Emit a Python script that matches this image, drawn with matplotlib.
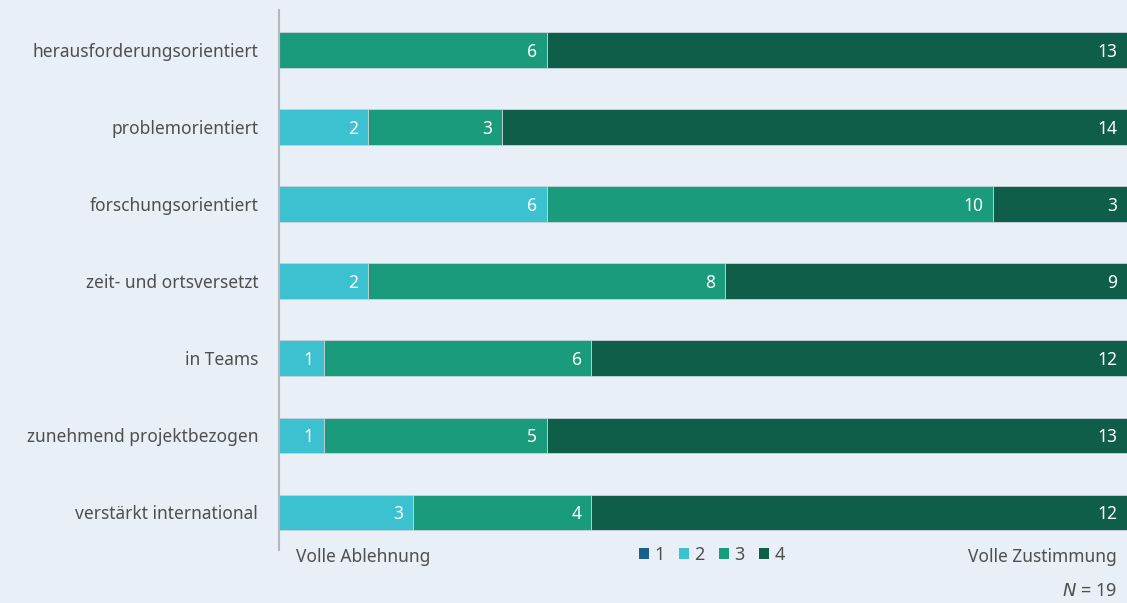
import matplotlib
matplotlib.use('Agg')
import matplotlib.pyplot as plt
import numpy as np

categories = ['herausforderungsorientiert', 'problemorientiert', 'forschungsorientiert',
              'zeit- und ortsversetzt', 'in Teams', 'zunehmend projektbezogen',
              'verstärkt international']
v1 = [0, 0, 0, 0, 0, 0, 0]
v2 = [0, 2, 6, 2, 1, 1, 3]
v3 = [6, 3, 10, 8, 6, 5, 4]
v4 = [13, 14, 3, 9, 12, 13, 12]
series_labels = ['1', '2', '3', '4']

colors = ['#1b5f8e', '#3cc1d1', '#1a9c7c', '#0f5e4a']
bg = '#e9eff6'
txt = '#4f4f4f'

plt.rcParams['font.family'] = ['Noto Sans', 'DejaVu Sans']

fig = plt.figure(figsize=(11.27, 6.03), dpi=100, facecolor=bg)
ax = fig.add_axes([279/1127, 53/603, 848/1127, 540/603], facecolor=bg)

y = np.arange(len(categories))
left = np.zeros(len(categories))
for vals, c, lab in zip([v1, v2, v3, v4], colors, series_labels):
	vals = np.array(vals, dtype=float)
	ax.barh(y, vals, left=left, height=0.46, color=c, edgecolor='#c9d3dc', linewidth=0.6, label=lab)
	for yi, l, v in zip(y, left, vals):
		if v > 0:
			ax.text(l + v - 0.22, yi + 0.02, '%d' % v, ha='right', va='center', color='white', fontsize=12.5)
	left += vals

ax.set_xlim(0, 19)
ax.set_ylim(6.49, -0.52)
ax.set_yticks(y)
ax.set_yticklabels(categories, fontsize=12.5, color=txt)
ax.tick_params(axis='y', length=0, pad=15)
ax.set_xticks([])
for s in ['top', 'right', 'bottom']:
	ax.spines[s].set_visible(False)
ax.spines['left'].set_color('#b5b9bd')
ax.spines['left'].set_linewidth(1.5)

fig.text(296/1127, 1 - 557/603, 'Volle Ablehnung', ha='left', va='center', fontsize=12.5, color=txt)
fig.text(1117/1127, 1 - 557/603, 'Volle Zustimmung', ha='right', va='center', fontsize=12.5, color=txt)
fig.text(1117/1127, 1 - 591/603, '$\\it{N}$ = 19', ha='right', va='center', fontsize=13, color=txt)

leg = fig.legend(loc='center', bbox_to_anchor=(712/1127, 1 - 555/603), ncol=4, frameon=False,
                 fontsize=13, handlelength=0.55, handleheight=0.55, handletextpad=0.3,
                 columnspacing=0.8, labelcolor=txt)
for h in leg.legend_handles:
	h.set_edgecolor('none')

plt.savefig('out.png', dpi=100, facecolor=bg)
